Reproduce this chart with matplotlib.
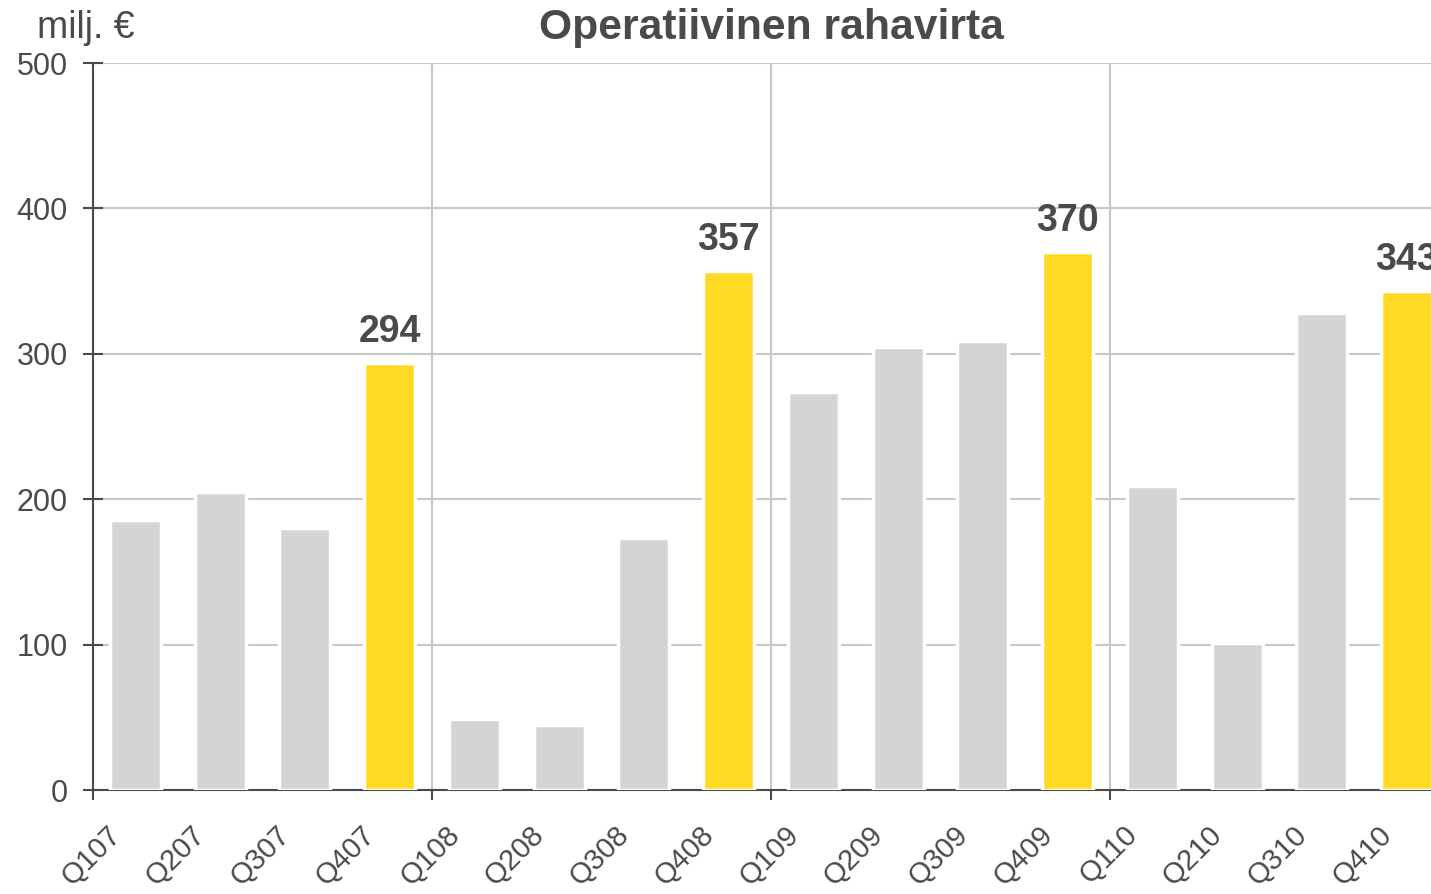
import matplotlib
matplotlib.use("Agg")
import matplotlib.pyplot as plt
import matplotlib.transforms as mtransforms

categories = ["Q107", "Q207", "Q307", "Q407",
              "Q108", "Q208", "Q308", "Q408",
              "Q109", "Q209", "Q309", "Q409",
              "Q110", "Q210", "Q310", "Q410"]
values = [186, 205, 180, 294,
          49, 45, 173, 357,
          274, 305, 309, 370,
          209, 101, 328, 343]
highlight = [False, False, False, True] * 4
yticks = [0, 100, 200, 300, 400, 500]

TXT = "#4a4a4a"
GREY = "#d4d4d4"
YELLOW = "#ffda24"
GRID = "#c8c8c8"
AX = "#4a4a4a"

plt.rcParams["font.family"] = ["Liberation Sans", "DejaVu Sans"]

W, H = 1431, 894
fig = plt.figure(figsize=(W / 100, H / 100), dpi=100)
left, right, bottom, top = 93, 1449, 790, 63
ax = fig.add_axes([left / W, (H - bottom) / H, (right - left) / W, (bottom - top) / H])

x = list(range(len(categories)))
colors = [YELLOW if h else GREY for h in highlight]
ax.bar(x, values, width=0.6, color=colors, edgecolor="white", linewidth=2.5, zorder=3)

for xi, v, h in zip(x, values, highlight):
    if h:
        ax.annotate(str(v), (xi, v), xytext=(0, 15), textcoords="offset points",
                    ha="center", va="baseline", fontsize=27, fontweight="bold",
                    color=TXT, zorder=5, annotation_clip=False)

ax.set_xlim(-0.5, len(categories) - 0.5)
ax.set_ylim(0, 500)

ax.set_yticks(yticks)
ax.set_yticklabels([str(t) for t in yticks])
ax.tick_params(axis="y", direction="inout", length=14, width=1.5, color=AX,
               labelsize=22, labelcolor=TXT, pad=11)

ax.set_xticks([-0.5, 3.5, 7.5, 11.5])
ax.set_xticklabels([])
ax.set_xticks(x, minor=True)
ax.set_xticklabels(categories, minor=True, rotation=45, ha="right",
                   rotation_mode="anchor")
ax.tick_params(axis="x", which="major", direction="out", length=7.5, width=1.5, color=AX)
ax.tick_params(axis="x", which="minor", length=0, labelsize=21, labelcolor=TXT, pad=22)
shift = mtransforms.ScaledTranslation(-0.29, 0, fig.dpi_scale_trans)
for lbl in ax.get_xticklabels(minor=True):
    lbl.set_transform(lbl.get_transform() + shift)

ax.grid(axis="y", color=GRID, linewidth=1.5, zorder=1)
ax.grid(axis="x", which="major", color=GRID, linewidth=1.5, zorder=1)
ax.set_axisbelow(True)

for s in ["top", "right"]:
    ax.spines[s].set_visible(False)
for s in ["left", "bottom"]:
    ax.spines[s].set_color(AX)
    ax.spines[s].set_linewidth(1.5)
ax.spines["bottom"].set_zorder(2)

fig.text((left + right) / 2 / W, 1 - 28 / H, "Operatiivinen rahavirta", ha="center",
         va="center", fontsize=30.7, fontweight="bold", color=TXT)
fig.text(37 / W, 1 - 28 / H, "milj. €", ha="left", va="center", fontsize=27, color=TXT)

fig.savefig("out.png", dpi=100)
